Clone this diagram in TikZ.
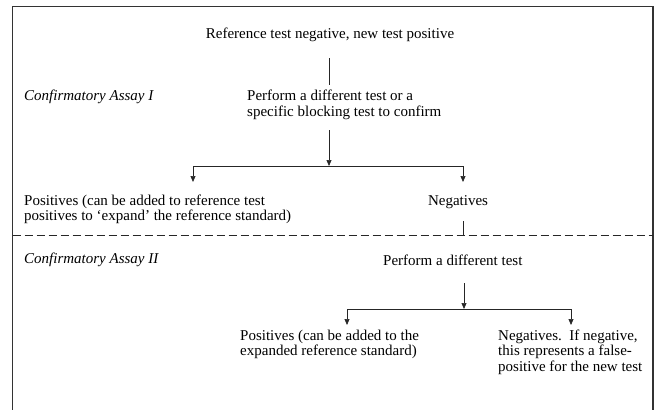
\documentclass[tikz,border=0pt]{standalone}
\usepackage{fontspec}
\setmainfont{Liberation Serif}
\usetikzlibrary{positioning,arrows.meta}

\tikzset{
  txt/.style={inner sep=0pt, align=left, font=\fontsize{15}{15.5}\selectfont},
  ital/.style={txt, font=\fontsize{15}{15.5}\selectfont\itshape},
  link/.style={line width=0.7pt, draw=black!85},
  arr/.style={link, -{Triangle[length=6pt,width=5pt]}},
  frame/.style={line width=1.2pt, draw=black!80}
}

\begin{document}
\begin{tikzpicture}[x=1pt,y=-1pt]
            \useasboundingbox (0,0) rectangle (657,410);
            \draw[frame] (12.7,410) -- (12.7,6.7) -- (653,6.7) -- (653,410);

            % first assay
            \node[txt] (ref) at (330,35) {Reference test negative, new test positive};
            \node[ital, anchor=west] (assayI) at (24,97) {Confirmatory Assay I};
            \node[txt, anchor=west] (perfI) at (247,105) {Perform a different test or a\\specific blocking test to confirm};
            \node[txt, anchor=west] (posI) at (24,209.5) {Positives (can be added to reference test\\positives to `expand' the reference standard)};
            \node[txt] (negI) at (458,202) {Negatives};
            \coordinate (refout) at (329,58);
            \coordinate (perfIin) at (329,85);
            \coordinate (perfIout) at (329,130);
            \coordinate (splitI) at (329,166);
            \coordinate (pI) at (193,182);
            \coordinate (nI) at (463,182);
            \coordinate (negIout) at (463,221);
            \draw[link] (refout) -- (perfIin);
            \draw[arr] (perfIout) -- (splitI);
            \draw[arr] (splitI) -| (pI);
            \draw[arr] (splitI) -| (nI);
            \coordinate (dashL) at (12.7,235);
            \coordinate (dashR) at (653,235);
            \draw[link] (negIout) -- (dashL -| negIout);
            \draw[link, dash pattern=on 8pt off 4pt] (dashL) -- (dashR);

            % second assay
            \node[ital, anchor=west] (assayII) at (24,260) {Confirmatory Assay II};
            \node[txt, anchor=west] (perfII) at (383,260) {Perform a different test};
            \node[txt, anchor=west] (posII) at (240,344.5) {Positives (can be added to the\\expanded reference standard)};
            \node[txt, anchor=west] (negII) at (498,352) {Negatives.\ \ If negative,\\this represents a false-\\positive for the new test};
            \coordinate (perfIIout) at (464,283);
            \coordinate (splitII) at (464,309);
            \coordinate (pII) at (347,325);
            \coordinate (nII) at (571,325);
            \draw[arr] (perfIIout) -- (splitII);
            \draw[arr] (splitII) -| (pII);
            \draw[arr] (splitII) -| (nII);
        \end{tikzpicture}
\end{document}
